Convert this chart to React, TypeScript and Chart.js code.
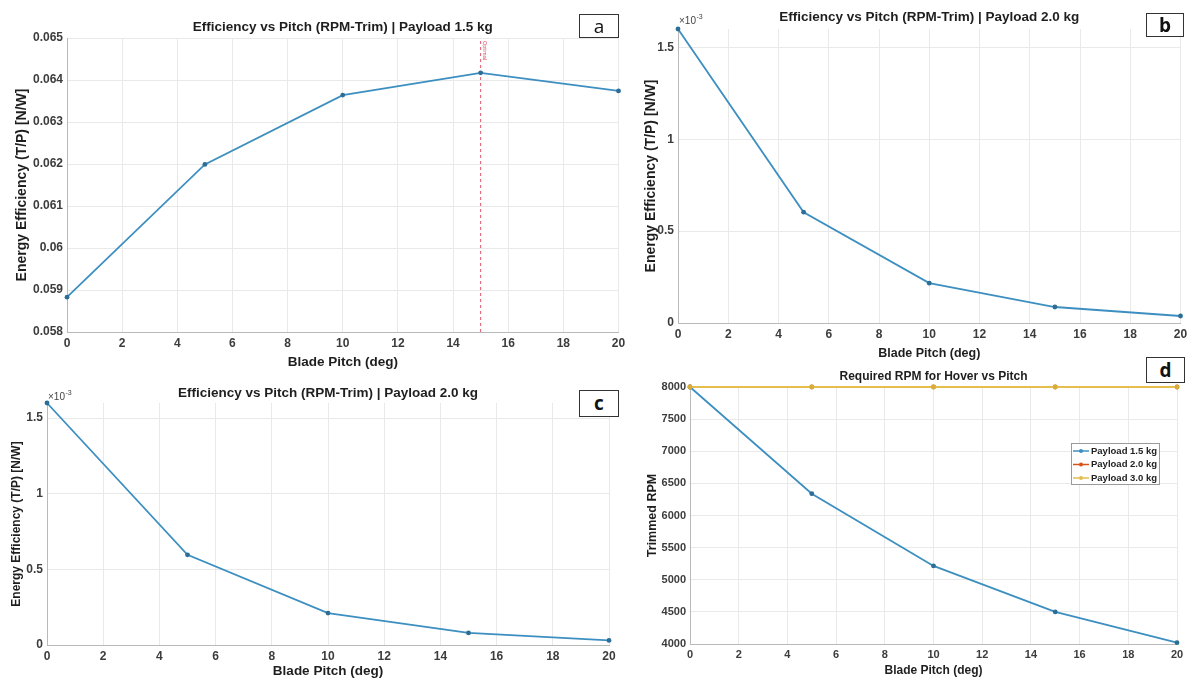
import React, { useEffect, useRef } from 'react';
import { Chart, registerables } from 'chart.js';

Chart.register(...registerables);

// ---------- data ----------
const pitchDeg = [0, 5, 10, 15, 20];
const effPayload15 = [0.05883, 0.06199, 0.06364, 0.06417, 0.06374];
const effPayload20b = [0.0016, 0.000603, 0.000217, 0.000087, 0.000038];
const effPayload20c = [0.0016, 0.000596, 0.000211, 0.00008, 0.00003];
const rpmPayload15 = [8000, 6340, 5215, 4500, 4020];
const rpmPayload20 = [8000, 8000, 8000, 8000, 8000];
const rpmPayload30 = [8000, 8000, 8000, 8000, 8000];
const optimalPitch = 15;
const legendLabels = ['Payload 1.5 kg', 'Payload 2.0 kg', 'Payload 3.0 kg'];
const titleA = 'Efficiency vs Pitch (RPM-Trim) | Payload 1.5 kg';
const titleB = 'Efficiency vs Pitch (RPM-Trim) | Payload 2.0 kg';
const titleC = 'Efficiency vs Pitch (RPM-Trim) | Payload 2.0 kg';
const titleD = 'Required RPM for Hover vs Pitch';
const xAxisTitle = 'Blade Pitch (deg)';
const effAxisTitle = 'Energy Efficiency (T/P) [N/W]';
const rpmAxisTitle = 'Trimmed RPM';
const panelLetters = ['a', 'b', 'c', 'd'];

// ---------- styles ----------
const FONT = "'Liberation Sans', Arial, sans-serif";
const BLUE = '#3c8fc0';
const BLUE_PT = '#2c6e96';
const ORANGE = '#D95319';
const YELLOW = '#E6BE4E';
const GRID = '#e9e9e9';
const AXIS = '#b9b9b9';
const TICK = '#3c3c3c';
const TEXT = '#1e1e1e';

const pts = (ys: number[]) => pitchDeg.map((x, i) => ({ x, y: ys[i] }));

const overlayPlugin = {
  id: 'overlay',
  afterDraw(chart: any, _a: any, o: any) {
    const ctx = chart.ctx as CanvasRenderingContext2D;
    const area = chart.chartArea;
    const ox = o.origin[0];
    const oy = o.origin[1];
    ctx.save();
    if (o.title) {
      ctx.font = `bold ${o.title.size}px ${FONT}`;
      ctx.fillStyle = TEXT;
      ctx.textAlign = 'center';
      ctx.textBaseline = 'middle';
      ctx.fillText(o.title.text, (area.left + area.right) / 2, o.title.y - oy);
    }
    if (o.exponent) {
      const x = o.exponent.x - ox;
      const y = o.exponent.y - oy;
      ctx.fillStyle = '#444';
      ctx.textAlign = 'left';
      ctx.textBaseline = 'alphabetic';
      ctx.font = `10px ${FONT}`;
      ctx.fillText('\u00d710', x, y + 4);
      const w = ctx.measureText('\u00d710').width;
      ctx.font = `7px ${FONT}`;
      ctx.fillText('-3', x + w + 0.5, y - 1);
    }
    if (o.optimal) {
      const x = chart.scales.x.getPixelForValue(o.optimal.value);
      ctx.translate(x + 4, area.top + 3);
      ctx.rotate(Math.PI / 2);
      ctx.font = `5.5px ${FONT}`;
      ctx.fillStyle = '#d9485f';
      ctx.textAlign = 'left';
      ctx.textBaseline = 'middle';
      ctx.fillText(o.optimal.text, 0, 0);
      ctx.setTransform(1, 0, 0, 1, 0, 0);
    }
    if (o.legend) {
      const lg = o.legend;
      const x0 = lg.x - ox;
      const y0 = lg.y - oy;
      ctx.fillStyle = '#fff';
      ctx.fillRect(x0, y0, lg.w, lg.h);
      ctx.strokeStyle = '#9a9a9a';
      ctx.lineWidth = 1;
      ctx.strokeRect(x0 + 0.5, y0 + 0.5, lg.w, lg.h);
      ctx.font = `bold 9.5px ${FONT}`;
      ctx.textBaseline = 'middle';
      ctx.textAlign = 'left';
      lg.items.forEach((it: any, i: number) => {
        const yy = y0 + 8 + i * 13.5;
        ctx.strokeStyle = it.color;
        ctx.lineWidth = 1.5;
        ctx.beginPath();
        ctx.moveTo(x0 + 2, yy);
        ctx.lineTo(x0 + 18, yy);
        ctx.stroke();
        ctx.fillStyle = it.color;
        ctx.beginPath();
        ctx.arc(x0 + 10, yy, 2, 0, Math.PI * 2);
        ctx.fill();
        ctx.fillStyle = '#222';
        ctx.fillText(it.label, x0 + 20, yy);
      });
    }
    ctx.restore();
  },
};

type Spec = {
  canvas: { x: number; y: number; w: number; h: number };
  area: { L: number; T: number; R: number; B: number };
  yTitle: string;
  yTitleX: number;
  yTitleSize: number;
  xTitleY: number;
  xTitleSize: number;
  tickSize: number;
  xTickY: number;
  y: { min: number; max: number; step: number; fmt: (v: number) => string };
  datasets: any[];
  overlay: any;
};

function buildConfig(p: Spec): any {
  const padLeft = 4;
  const yWidth = p.area.L - p.canvas.x - padLeft;
  const xHeight = p.canvas.y + p.canvas.h - p.area.B;
  const xTitleLh = p.xTitleSize * 1.2;
  const yTitleLh = p.yTitleSize * 1.2;
  const xTitlePad = p.canvas.y + p.canvas.h - p.xTitleY - xTitleLh / 2;
  const yTitlePad = p.yTitleX - (p.canvas.x + padLeft) - yTitleLh / 2;
  const xTickPad = p.xTickY - p.area.B - p.tickSize * 0.6;
  return {
    type: 'line',
    data: { datasets: p.datasets },
    options: {
      responsive: false,
      animation: false,
      events: [],
      clip: false,
      layout: {
        padding: {
          left: padLeft,
          top: p.area.T - p.canvas.y,
          right: p.canvas.x + p.canvas.w - p.area.R,
          bottom: 0,
        },
      },
      plugins: {
        legend: { display: false },
        tooltip: { enabled: false },
        title: { display: false },
        overlay: { ...p.overlay, origin: [p.canvas.x, p.canvas.y] },
      },
      scales: {
        x: {
          type: 'linear',
          min: 0,
          max: 20,
          ticks: {
            stepSize: 2,
            padding: xTickPad,
            color: TICK,
            font: { family: FONT, size: p.tickSize, weight: 'bold' },
          },
          grid: { color: GRID, drawTicks: false },
          border: { color: AXIS },
          title: {
            display: true,
            text: xAxisTitle,
            color: TEXT,
            font: { family: FONT, size: p.xTitleSize, weight: 'bold' },
            padding: { top: 0, bottom: xTitlePad },
          },
          afterFit: (s: any) => {
            s.height = xHeight;
          },
        },
        y: {
          type: 'linear',
          min: p.y.min,
          max: p.y.max,
          ticks: {
            stepSize: p.y.step,
            includeBounds: false,
            padding: 4,
            color: TICK,
            font: { family: FONT, size: p.tickSize, weight: 'bold' },
            callback: (v: any) => p.y.fmt(Number(v)),
          },
          grid: { color: GRID, drawTicks: false },
          border: { color: AXIS },
          title: {
            display: true,
            text: p.yTitle,
            color: TEXT,
            font: { family: FONT, size: p.yTitleSize, weight: 'bold' },
            padding: { top: yTitlePad, bottom: 0 },
          },
          afterFit: (s: any) => {
            s.width = yWidth;
          },
        },
      },
    },
    plugins: [overlayPlugin],
  };
}

const lineDs = (label: string, ys: number[], color: string, ptColor: string, order: number) => ({
  label,
  data: pts(ys),
  borderColor: color,
  backgroundColor: ptColor,
  borderWidth: 1.8,
  pointRadius: 2.4,
  pointBorderWidth: 0,
  pointBackgroundColor: ptColor,
  tension: 0,
  clip: false,
  order,
});

const fmtEff = (v: number) => String(parseFloat(v.toFixed(3)));
const fmtExp = (v: number) => String(parseFloat((v * 1000).toFixed(2)));
const fmtRpm = (v: number) => String(Math.round(v));

const specs: Spec[] = [
  {
    canvas: { x: 0, y: 0, w: 630, h: 372 },
    area: { L: 67, T: 38, R: 619, B: 332 },
    yTitle: effAxisTitle,
    yTitleX: 22,
    yTitleSize: 14,
    xTitleY: 362,
    xTitleSize: 13.5,
    tickSize: 12,
    xTickY: 344,
    y: { min: 0.058, max: 0.065, step: 0.001, fmt: fmtEff },
    datasets: [
      lineDs('Payload 1.5 kg', effPayload15, BLUE, BLUE_PT, 0),
      {
        label: 'Optimal',
        data: [
          { x: optimalPitch, y: 0.058 },
          { x: optimalPitch, y: 0.065 },
        ],
        borderColor: '#e0566c',
        borderWidth: 1,
        borderDash: [3, 3],
        pointRadius: 0,
        order: 1,
      },
    ],
    overlay: {
      title: { text: titleA, y: 27, size: 13.5 },
      optimal: { value: optimalPitch, text: 'Optimal' },
    },
  },
  {
    canvas: { x: 630, y: 0, w: 562, h: 362 },
    area: { L: 678, T: 29, R: 1183, B: 323 },
    yTitle: effAxisTitle,
    yTitleX: 651,
    yTitleSize: 14,
    xTitleY: 354,
    xTitleSize: 12.5,
    tickSize: 12,
    xTickY: 335,
    y: { min: 0, max: 0.0016, step: 0.0005, fmt: fmtExp },
    datasets: [lineDs('Payload 2.0 kg', effPayload20b, BLUE, BLUE_PT, 0)],
    overlay: {
      title: { text: titleB, y: 17, size: 13.5 },
      exponent: { x: 679, y: 20 },
    },
  },
  {
    canvas: { x: 0, y: 378, w: 630, h: 302 },
    area: { L: 47, T: 403, R: 609, B: 645 },
    yTitle: effAxisTitle,
    yTitleX: 17,
    yTitleSize: 12,
    xTitleY: 671,
    xTitleSize: 13.5,
    tickSize: 12,
    xTickY: 657,
    y: { min: 0, max: 0.0016, step: 0.0005, fmt: fmtExp },
    datasets: [lineDs('Payload 2.0 kg', effPayload20c, BLUE, BLUE_PT, 0)],
    overlay: {
      title: { text: titleC, y: 393, size: 13.5 },
      exponent: { x: 48, y: 396 },
    },
  },
  {
    canvas: { x: 630, y: 362, w: 562, h: 318 },
    area: { L: 690, T: 387, R: 1177, B: 644 },
    yTitle: rpmAxisTitle,
    yTitleX: 653,
    yTitleSize: 12.5,
    xTitleY: 671,
    xTitleSize: 12,
    tickSize: 11,
    xTickY: 655,
    y: { min: 4000, max: 8000, step: 500, fmt: fmtRpm },
    datasets: [
      lineDs(legendLabels[0], rpmPayload15, BLUE, BLUE_PT, 2),
      lineDs(legendLabels[1], rpmPayload20, ORANGE, ORANGE, 1),
      lineDs(legendLabels[2], rpmPayload30, YELLOW, '#d9ad3a', 0),
    ],
    overlay: {
      title: { text: titleD, y: 377, size: 12 },
      legend: {
        x: 1071,
        y: 443,
        w: 88,
        h: 41,
        items: [
          { label: legendLabels[0], color: BLUE },
          { label: legendLabels[1], color: ORANGE },
          { label: legendLabels[2], color: YELLOW },
        ],
      },
    },
  },
];

const letterBoxes = [
  { x: 579, y: 14, w: 40, h: 24, bold: false },
  { x: 1146, y: 13, w: 38, h: 24, bold: true },
  { x: 579, y: 390, w: 40, h: 27, bold: true },
  { x: 1146, y: 357, w: 39, h: 26, bold: true },
];

export default function App() {
  const refs = useRef<(HTMLCanvasElement | null)[]>([]);
  useEffect(() => {
    const charts = specs.map((s, i) => new Chart(refs.current[i] as HTMLCanvasElement, buildConfig(s)));
    return () => charts.forEach((c) => c.destroy());
  }, []);
  return (
    <div style={{ position: 'absolute', left: 0, top: 0, width: 1192, height: 680, background: '#fff', overflow: 'hidden' }}>
      {specs.map((s, i) => (
        <canvas
          key={i}
          ref={(el) => {
            refs.current[i] = el;
          }}
          width={s.canvas.w}
          height={s.canvas.h}
          style={{ position: 'absolute', left: s.canvas.x, top: s.canvas.y, width: s.canvas.w, height: s.canvas.h }}
        />
      ))}
      {letterBoxes.map((b, i) => (
        <div
          key={'l' + i}
          style={{
            position: 'absolute',
            left: b.x,
            top: b.y,
            width: b.w,
            height: b.h,
            boxSizing: 'border-box',
            border: '1.5px solid #333',
            background: '#fff',
            display: 'flex',
            alignItems: 'center',
            justifyContent: 'center',
            fontFamily: "'Open Sans', sans-serif",
            fontSize: 19,
            fontWeight: b.bold ? 700 : 400,
            color: '#111',
            lineHeight: 1,
          }}
        >
          {panelLetters[i]}
        </div>
      ))}
    </div>
  );
}
